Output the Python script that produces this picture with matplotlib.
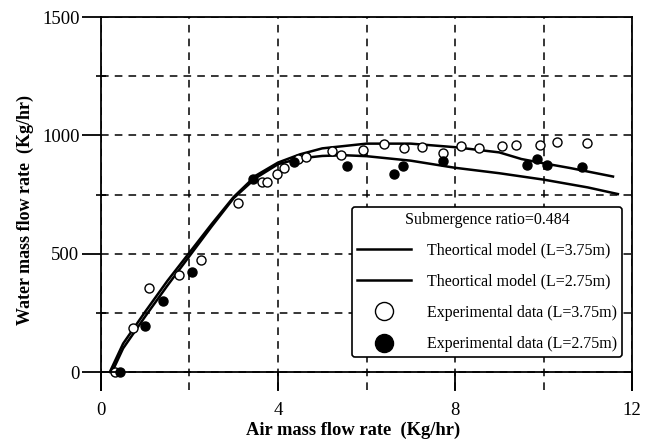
import matplotlib
matplotlib.use("Agg")
import matplotlib.pyplot as plt

plt.rcParams["font.family"] = ["Liberation Serif", "DejaVu Serif"]

# Theoretical model curves
model_x_375 = [0.2, 0.5, 1.0, 1.5, 2.0, 2.5, 3.0, 3.5, 4.0, 4.5, 5.0, 6.0, 7.0, 8.0, 9.0, 9.5, 10.0, 10.6, 11.57]
model_y_375 = [0, 120, 255, 385, 505, 625, 740, 830, 885, 920, 945, 965, 965, 950, 928, 900, 882, 862, 826]

model_x_275 = [0.25, 0.5, 1.0, 1.5, 2.0, 2.5, 3.0, 3.5, 4.0, 4.5, 5.0, 5.5, 6.0, 7.0, 8.0, 9.0, 10.0, 11.0, 11.68]
model_y_275 = [0, 100, 235, 365, 490, 615, 735, 820, 878, 903, 913, 916, 912, 893, 863, 840, 813, 780, 752]

# Experimental data, L=3.75m (open circles)
exp_x_375 = [0.32, 0.72, 1.08, 1.76, 2.26, 3.1, 3.64, 3.75, 3.98, 4.14, 4.45, 4.63, 5.22, 5.42,
             5.92, 6.4, 6.85, 7.25, 7.73, 8.14, 8.54, 9.06, 9.38, 9.92, 10.3, 10.98]
exp_y_375 = [0, 186, 355, 410, 473, 714, 803, 803, 837, 862, 900, 909, 934, 917,
             938, 963, 946, 951, 925, 955, 946, 955, 959, 959, 972, 967]

# Experimental data, L=2.75m (filled circles)
exp_x_275 = [0.43, 0.99, 1.4, 2.05, 3.44, 4.36, 5.56, 6.62, 6.82, 7.73, 9.63, 9.85, 10.08, 10.87]
exp_y_275 = [0, 194, 300, 423, 815, 887, 870, 837, 870, 891, 874, 900, 874, 866]

fig = plt.figure(figsize=(6.54, 4.43), dpi=100)
ax = fig.add_axes([0.1544, 0.1196, 0.812, 0.842])

ax.plot(model_x_375, model_y_375, color="black", lw=1.8, label="Theortical model (L=3.75m)")
ax.plot(model_x_275, model_y_275, color="black", lw=1.8, label="Theortical model (L=2.75m)")
ax.plot(exp_x_375, exp_y_375, "o", ms=6.5, mfc="white", mec="black", mew=1.0,
        label="Experimental data (L=3.75m)")
ax.plot(exp_x_275, exp_y_275, "o", ms=6.5, mfc="black", mec="black",
        label="Experimental data (L=2.75m)")

ax.set_xlim(0, 12)
ax.set_ylim(-76, 1500)

# axis line for x sits at y=0
ax.spines["bottom"].set_position(("data", 0))
for s in ax.spines.values():
    s.set_linewidth(1.3)

ax.set_xticks([0, 4, 8, 12])
ax.set_yticks([0, 500, 1000, 1500])
ax.set_xticks([2, 6, 10], minor=True)
ax.set_yticks([250, 750, 1250], minor=True)
ax.tick_params(axis="both", which="major", direction="out", length=13.5, width=1.3,
               labelsize=13.5)
ax.tick_params(axis="x", which="major", pad=8)
ax.tick_params(axis="y", which="major", pad=2)
ax.tick_params(axis="y", which="minor", direction="inout", length=7, width=1.2)
ax.tick_params(axis="x", which="minor", length=0)

ax.grid(True, which="both", color="black", ls=(0, (5, 4)), lw=1.1)
ax.set_axisbelow(True)

ax.set_xlabel("Air mass flow rate  (Kg/hr)", fontsize=13.3, fontweight="bold")
ax.set_ylabel("Water mass flow rate  (Kg/hr)", fontsize=13, fontweight="bold")
ax.xaxis.set_label_coords(0.475, -0.085)
ax.yaxis.set_label_coords(-0.126, 0.483)

leg = ax.legend(loc="lower right", bbox_to_anchor=(0.981, 0.0885), borderaxespad=0,
                title="Submergence ratio=0.484", title_fontsize=11.5, fontsize=11.5,
                fancybox=True, edgecolor="black", framealpha=1, markerscale=2,
                handlelength=3.4, handletextpad=1.0, labelspacing=0.95, borderpad=0.3)
leg.get_frame().set_linewidth(1.2)

fig.savefig("out.png", dpi=100)
